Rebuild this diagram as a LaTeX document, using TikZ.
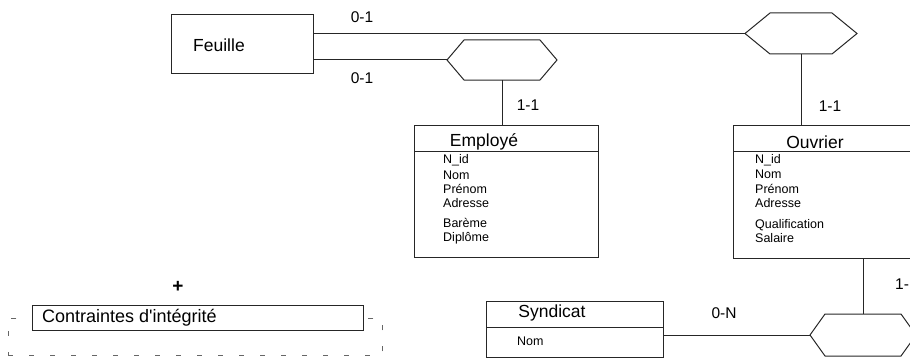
\documentclass[tikz,border=0pt]{standalone}
\usepackage{fontspec}
\setmainfont{Liberation Sans}
\newfontfamily\plainsans{Liberation Sans}[Ligatures=TeXOff]
\begin{document}
\begin{tikzpicture}[x=1pt,y=-1pt,
  ln/.style={line width=1pt,draw=black!85},
  boxs/.style={ln,rectangle,inner sep=0pt,outer sep=0pt,anchor=north west},
  hexc/.style={inner sep=0pt,outer sep=0pt,rectangle},
  ttl/.style={font=\fontsize{17.5}{20}\selectfont,inner sep=0pt},
  card/.style={font=\fontsize{15.5}{18}\selectfont,inner sep=0pt},
  attr/.style={font=\fontsize{12.5}{14}\selectfont,inner sep=0pt,anchor=west},
  dsh/.style={draw=black!60,line width=0.9pt,dash pattern=on 5pt off 16pt}]
\useasboundingbox (0,0) rectangle (910,361);
\clip (0,0) rectangle (910,361);
% Feuille
\node[boxs,minimum width=142pt,minimum height=59pt] (feuille) at (171,15) {};
\node[ttl,anchor=west] (feuilleT) at (193,45) {Feuille};
% hexagons (relations)
\node[hexc,minimum width=110pt,minimum height=40pt] (h1) at (502,60) {};
\node[hexc,minimum width=112pt,minimum height=41pt] (h2) at (801,33.5) {};
\node[hexc,minimum width=106pt,minimum height=42pt] (h3) at (863,335) {};
\draw[ln] (h1.west) -- ([xshift=17pt]h1.north west) -- ([xshift=-17pt]h1.north east) -- (h1.east) -- ([xshift=-17pt]h1.south east) -- ([xshift=17pt]h1.south west) -- cycle;
\draw[ln] (h2.west) -- ([xshift=25pt]h2.north west) -- ([xshift=-25pt]h2.north east) -- (h2.east) -- ([xshift=-25pt]h2.south east) -- ([xshift=25pt]h2.south west) -- cycle;
\draw[ln] (h3.west) -- ([xshift=15pt]h3.north west) -- ([xshift=-15pt]h3.north east) -- (h3.east) -- ([xshift=-15pt]h3.south east) -- ([xshift=15pt]h3.south west) -- cycle;
% Employe
\node[boxs,minimum width=184pt,minimum height=132pt] (emp) at (414,125) {};
\draw[ln] ([yshift=-26pt]emp.north west) -- ([yshift=-26pt]emp.north east);
\node[ttl] (empT) at (484,142) {Employé};
\node[attr] (e1) at (443,160) {N\_id};
\node[attr] (e2) at (443,175) {Nom};
\node[attr] (e3) at (443,189) {Prénom};
\node[attr] (e4) at (443,203) {Adresse};
\node[attr] (e5) at (443,223) {Barème};
\node[attr] (e6) at (443,238) {Diplôme};
% Ouvrier
\node[boxs,minimum width=185pt,minimum height=133pt] (ouv) at (733,125) {};
\draw[ln] ([yshift=-26pt]ouv.north west) -- ([yshift=-26pt]ouv.north east);
\node[ttl] (ouvT) at (815,142) {Ouvrier};
\node[attr] (o1) at (755,160) {N\_id};
\node[attr] (o2) at (755,174) {Nom};
\node[attr] (o3) at (755,189) {Prénom};
\node[attr] (o4) at (755,203) {Adresse};
\node[attr] (o5) at (755,225) {Qualification};
\node[attr] (o6) at (755,238) {Salaire};
% Syndicat
\node[boxs,minimum width=177pt,minimum height=56pt] (syn) at (486,301) {};
\draw[ln] ([yshift=-26pt]syn.north west) -- ([yshift=-26pt]syn.north east);
\node[ttl] (synT) at (552,313) {Syndicat};
\node[attr] (s1) at (517,341) {Nom};
% connectors
\draw[ln] (feuille.east |- h2.west) -- (h2.west);
\draw[ln] (feuille.east |- h1.west) -- (h1.west);
\draw[ln] (h1.south) -- (h1.south |- emp.north);
\draw[ln] (h2.south) -- (h2.south |- ouv.north);
\draw[ln] (h3.north) -- (h3.north |- ouv.south);
\draw[ln] (syn.east |- h3.west) -- (h3.west);
% cardinalities
\node[card] (c1) at (362,17) {0-1};
\node[card] (c2) at (362,78) {0-1};
\node[card] (c3) at (528,105) {1-1};
\node[card] (c4) at (830,106) {1-1};
\node[card] (c5) at (724,313) {0-N};
\node[card,anchor=west] (c6) at (895,284) {1-};
% contraintes
\node[dsh,rectangle,minimum width=374pt,minimum height=37pt,anchor=north west,inner sep=0pt] (frame) at (8,318) {};
\node[boxs,fill=white,minimum width=331pt,minimum height=25pt] (ci) at (32,305) {};
\node[font=\plainsans\fontsize{18}{20}\selectfont,inner sep=0pt,anchor=west] (ciT) at (42,318) {Contraintes d'intégrité};
\node[font=\fontsize{19}{20}\selectfont\bfseries,inner sep=0pt] (plus) at (178,287) {+};
\end{tikzpicture}
\end{document}
